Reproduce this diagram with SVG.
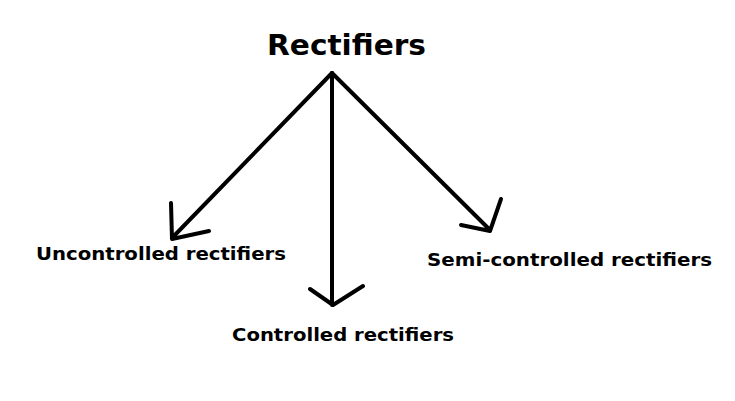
<svg xmlns="http://www.w3.org/2000/svg" width="735" height="401" viewBox="0 0 735 401">
<style>
.t{font-family:"DejaVu Sans",Verdana,sans-serif;font-weight:bold;fill:#000}
.c{fill:none;stroke:#000;stroke-width:4;stroke-linecap:round;stroke-linejoin:round}
</style>
<rect width="735" height="401" fill="#fff"/>
<g id="root"><text class="t" x="267" y="55" font-size="28" textLength="159" lengthAdjust="spacingAndGlyphs">Rectifiers</text></g>
<g id="uncontrolled"><text class="t" x="36" y="260" font-size="18" textLength="250" lengthAdjust="spacingAndGlyphs">Uncontrolled rectifiers</text></g>
<g id="controlled"><text class="t" x="232" y="341" font-size="18" textLength="222" lengthAdjust="spacingAndGlyphs">Controlled rectifiers</text></g>
<g id="semi"><text class="t" x="427" y="266" font-size="18" textLength="285" lengthAdjust="spacingAndGlyphs">Semi-controlled rectifiers</text></g>
<g id="connectors">
<path class="c" d="M332 73 L172 238 M171 203 L172 239 L209 231"/>
<path class="c" d="M332 73 L332 305 M310 289 L333 305 L363 286"/>
<path class="c" d="M332 73 L490 230 M461 225 L490 231 L501 199"/>
</g>
</svg>
